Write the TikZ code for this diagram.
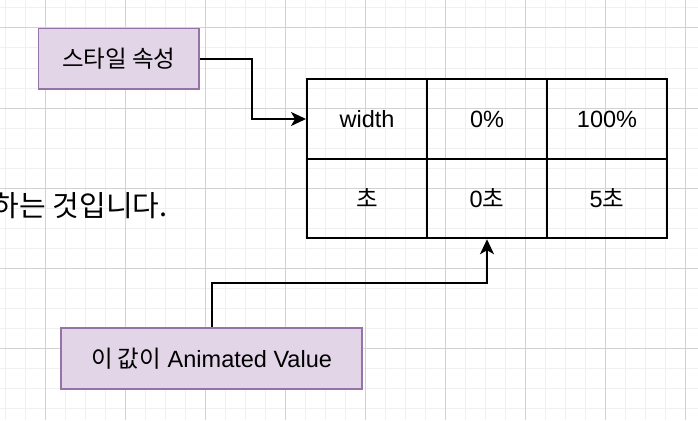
\documentclass[tikz,border=0pt]{standalone}
\usepackage{fontspec}
\setmainfont{Liberation Sans}
\newfontfamily\kr{Noto Sans CJK KR}
\usetikzlibrary{arrows.meta}
\definecolor{boxfill}{HTML}{E1D5E7}
\definecolor{boxline}{HTML}{9673A6}
\definecolor{gridminor}{HTML}{F0F0F0}
\definecolor{gridmajor}{HTML}{D2D2D2}
\newcommand\hg[1]{{\kr\fontsize{23.5}{27}\selectfont #1}}
\begin{document}
\begin{tikzpicture}[x=1pt,y=-1pt,
  note/.style={draw=boxline, fill=boxfill, line width=1.5pt, inner sep=0pt,
    font=\fontsize{23.5}{27}\selectfont},
  cell/.style={draw=black, line width=2pt, minimum width=120pt, minimum height=79.5pt,
    inner sep=0pt, font=\fontsize{23.5}{27}\selectfont},
  conn/.style={line width=2pt, -{Stealth[length=15pt, width=14pt, inset=4pt]}},
  lead/.style={font=\kr\fontsize{29}{33}\selectfont}]
\useasboundingbox (0,0) rectangle (698,420);
\clip (0,0) rectangle (698,420);
\fill[white] (0,0) rectangle (698,420);
\foreach \x in {5,25,...,685} \draw[gridminor, line width=1pt] (\x,0) -- (\x,420);
\foreach \y in {8,28,...,408} \draw[gridminor, line width=1pt] (0,\y) -- (698,\y);
\foreach \x in {45,125,...,685} \draw[gridmajor, line width=1pt] (\x,0) -- (\x,420);
\foreach \y in {28,108,...,348} \draw[gridmajor, line width=1pt] (0,\y) -- (698,\y);

\node[lead, anchor=base east] (leadtext) at (171,216) {하는 것입니다.};

\node[note, minimum width=160.5pt, minimum height=60.5pt] (prop) at (118.75,58.75) {\hg{스타일 속성}};
\node[note, minimum width=301pt, minimum height=61pt] (val) at (211.5,358.5) {\hg{이 값이} Animated Value};

\node[cell] (c11) at (367,119) {width};
\node[cell] (c12) at (487,119) {0\%};
\node[cell] (c13) at (607,119) {100\%};
\node[cell] (c21) at (367,198.5) {\hg{초}};
\node[cell] (c22) at (487,198.5) {0\hg{초}};
\node[cell] (c23) at (607,198.5) {5\hg{초}};

\coordinate (bend1) at (252,0);
\coordinate (bend2) at (0,283);
\draw[conn] (prop.east) -- (prop.east -| bend1) |- (c11.west);
\draw[conn] (val.north) -- (val.north |- bend2) -| (c22.south);
\end{tikzpicture}
\end{document}
